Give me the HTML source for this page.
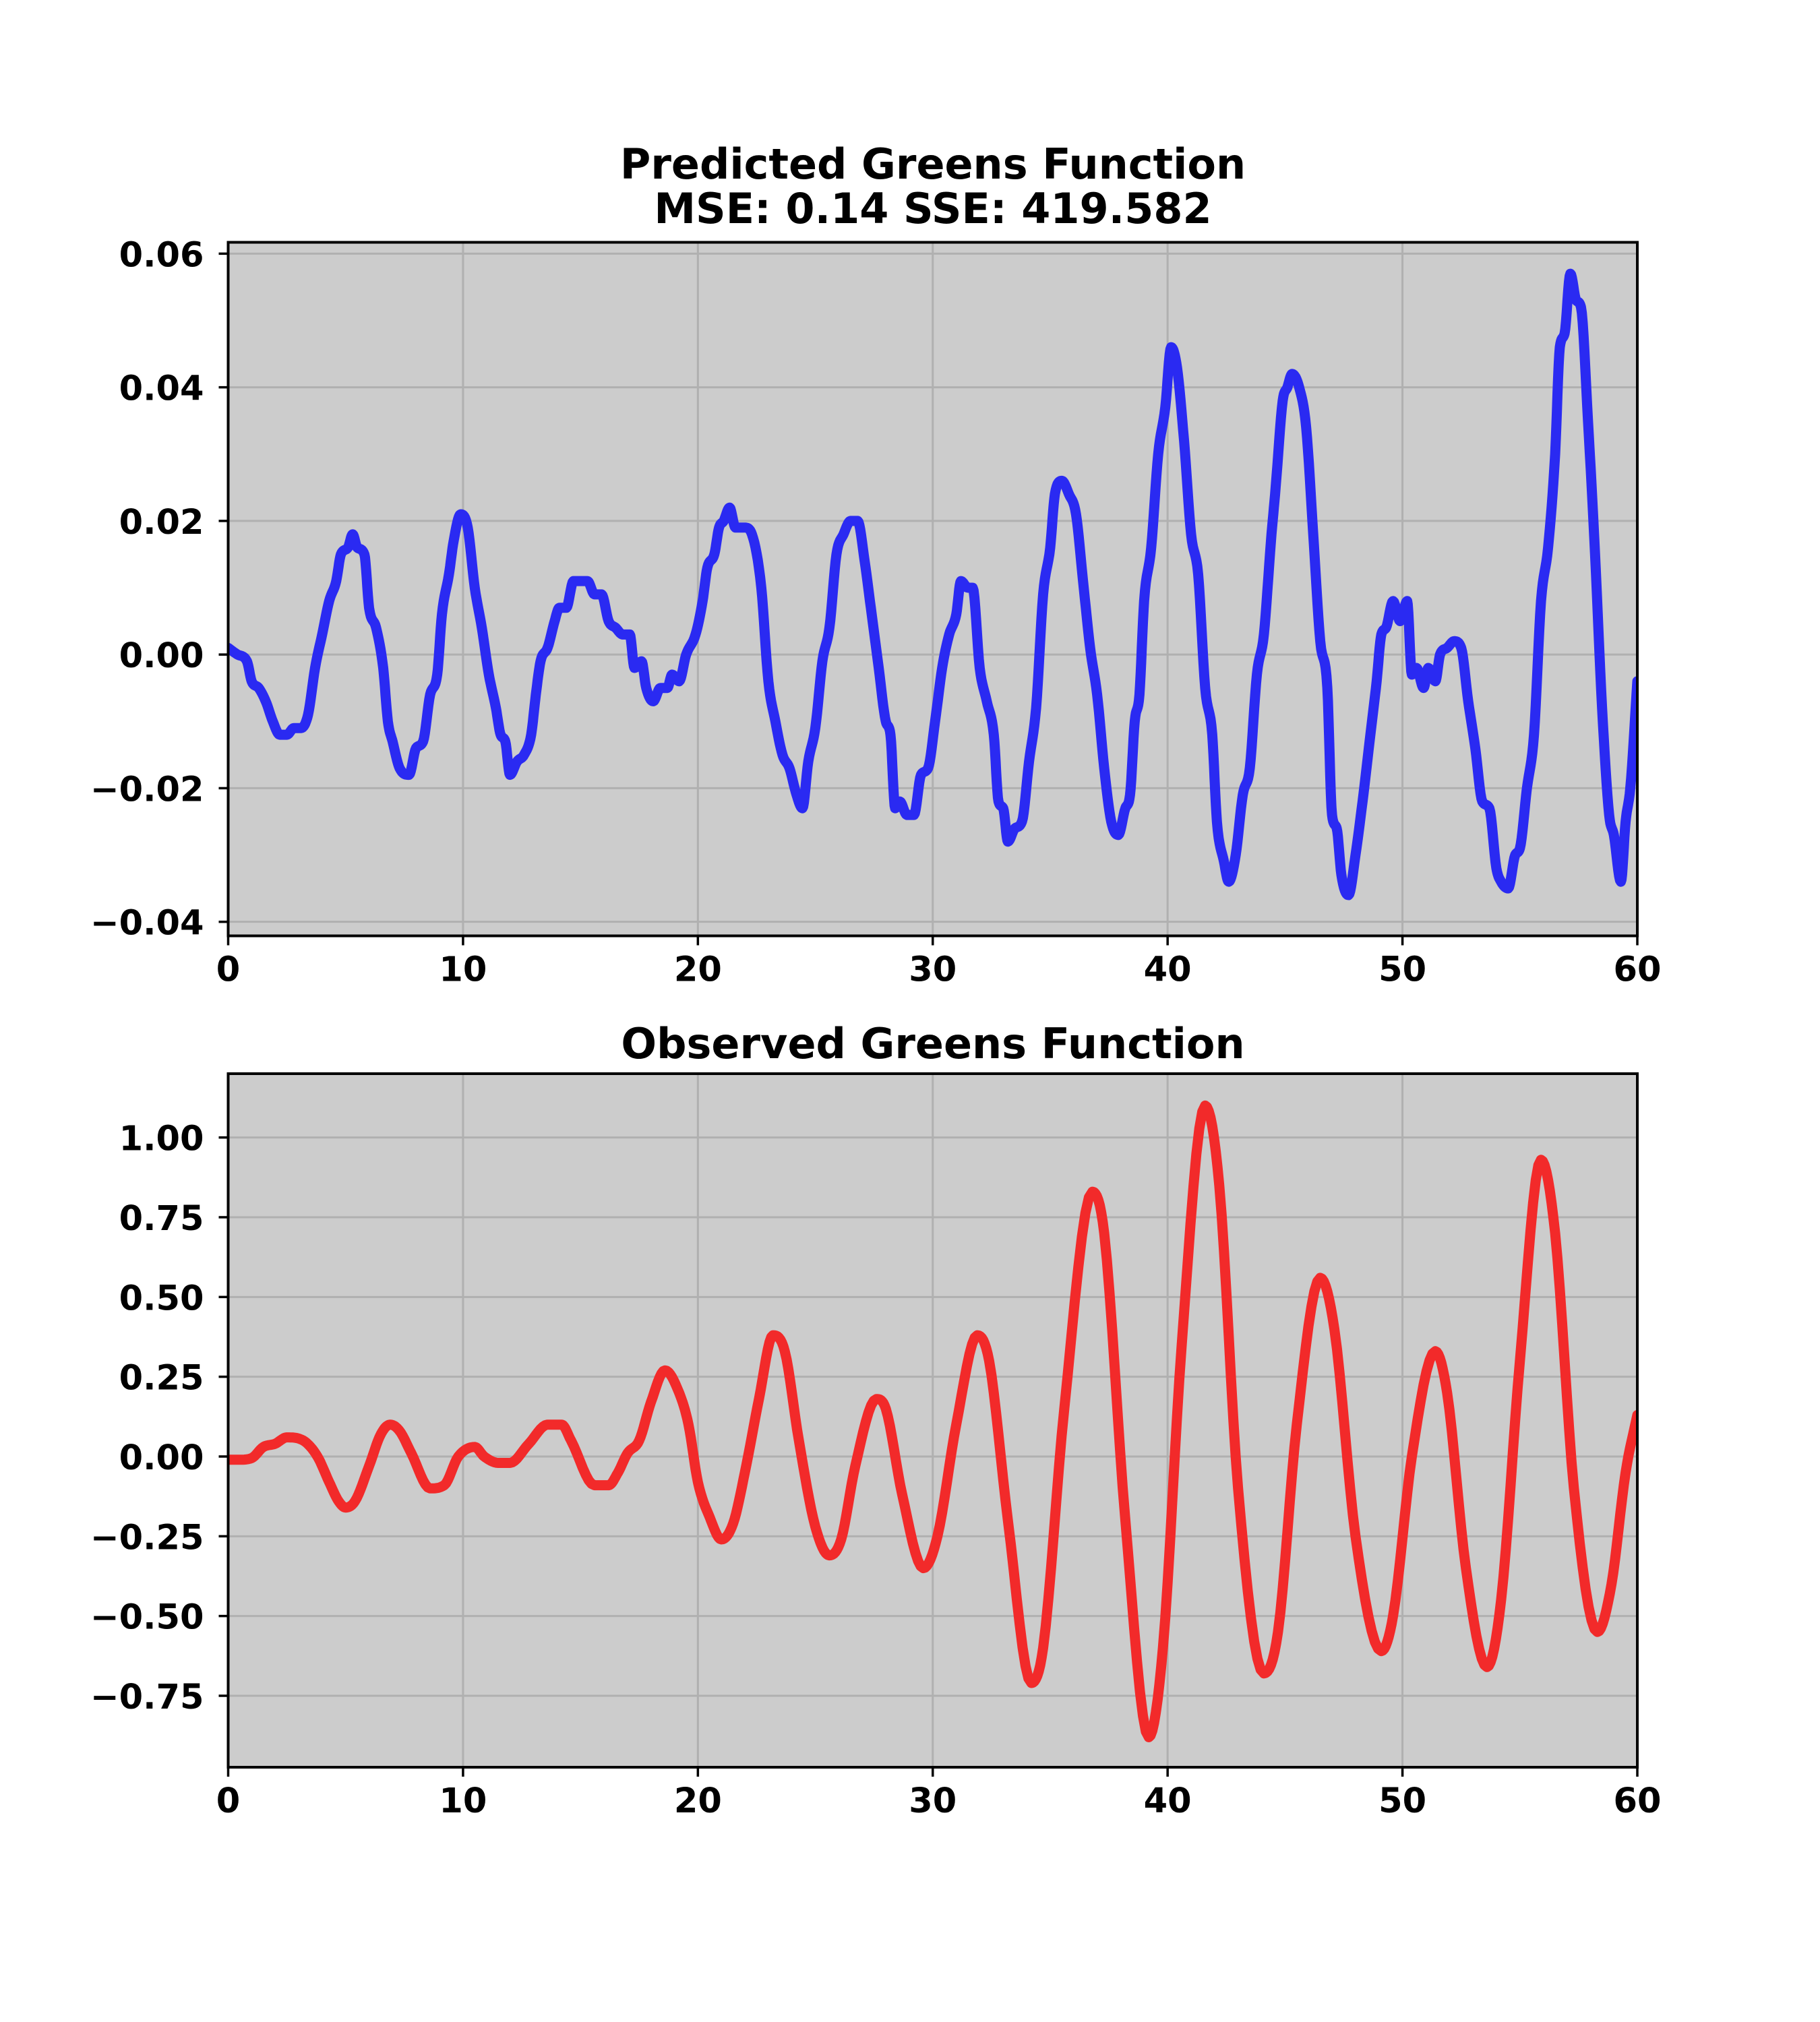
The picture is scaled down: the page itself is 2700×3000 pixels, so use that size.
<!DOCTYPE html>
<html><head><meta charset="utf-8"><style>
html,body{margin:0;padding:0;background:#fff;}
svg{display:block;font-family:"DejaVu Sans","Liberation Sans",sans-serif;font-weight:bold;}
</style></head><body>
<svg id="fig" width="2700" height="3000" viewBox="0 0 2700 3000" xmlns="http://www.w3.org/2000/svg">
<rect width="2700" height="3000" fill="#fff"/>
<text x="1384" y="265" font-size="62" text-anchor="middle">Predicted Greens Function</text>
<text x="1384" y="331" font-size="62" text-anchor="middle">MSE: 0.14 SSE: 419.582</text>
<text x="1384" y="1570" font-size="62" text-anchor="middle">Observed Greens Function</text>
<g id="p1"></g>
<g id="p2"></g>
</svg>
<script>
const xTicks=[0,10,20,30,40,50,60];
const predTicks=[0.06,0.04,0.02,0.00,-0.02,-0.04];
const predTickLabels=["0.06","0.04","0.02","0.00","\u22120.02","\u22120.04"];
const obsTicks=[1.00,0.75,0.50,0.25,0.00,-0.25,-0.50,-0.75];
const obsTickLabels=["1.00","0.75","0.50","0.25","0.00","\u22120.25","\u22120.50","\u22120.75"];
const predT=[0,0.4,0.8,1.0,1.3,1.6,1.9,2.2,2.5,2.8,3.1,3.4,3.7,4.0,4.3,4.6,4.8,5.1,5.3,5.5,5.8,6.0,6.3,6.6,6.8,7.0,7.3,7.7,8.0,8.3,8.6,8.9,9.1,9.4,9.6,9.9,10.2,10.5,10.8,11.1,11.4,11.6,11.8,12.0,12.3,12.6,12.9,13.1,13.3,13.6,13.9,14.1,14.4,14.7,15.0,15.3,15.6,15.9,16.2,16.5,16.8,17.1,17.3,17.6,17.8,18.1,18.4,18.7,18.9,19.2,19.5,19.9,20.2,20.4,20.7,20.9,21.1,21.35,21.6,22.0,22.3,22.7,23.0,23.3,23.6,23.9,24.2,24.45,24.7,25.0,25.3,25.6,25.9,26.2,26.5,26.8,27.1,27.4,27.7,28.0,28.2,28.4,28.6,28.9,29.2,29.5,29.8,30.1,30.4,30.7,31.0,31.2,31.5,31.7,32.0,32.3,32.6,32.8,33.0,33.2,33.5,33.8,34.1,34.4,34.7,35.0,35.2,35.5,35.8,36.1,36.4,36.7,37.0,37.3,37.6,37.9,38.2,38.4,38.6,38.8,39.0,39.3,39.6,39.9,40.15,40.4,40.7,41.0,41.3,41.6,41.9,42.1,42.4,42.6,42.9,43.2,43.5,43.8,44.1,44.4,44.6,44.9,45.1,45.3,45.6,45.9,46.2,46.5,46.8,47.0,47.2,47.4,47.7,48.0,48.3,48.6,48.9,49.1,49.3,49.6,49.9,50.2,50.4,50.6,50.9,51.1,51.4,51.6,51.9,52.2,52.5,52.8,53.1,53.4,53.7,54.0,54.2,54.5,54.8,55.0,55.3,55.6,55.9,56.2,56.5,56.7,56.9,57.15,57.4,57.6,57.9,58.2,58.5,58.8,59.0,59.3,59.5,59.7,60];
const predV=[0.001,0,-0.001,-0.004,-0.005,-0.007,-0.010,-0.012,-0.012,-0.011,-0.011,-0.009,-0.002,0.003,0.008,0.011,0.015,0.016,0.018,0.016,0.015,0.007,0.004,-0.002,-0.010,-0.013,-0.017,-0.018,-0.014,-0.013,-0.006,-0.003,0.006,0.012,0.017,0.021,0.019,0.010,0.004,-0.003,-0.008,-0.012,-0.013,-0.018,-0.016,-0.015,-0.012,-0.006,-0.001,0.001,0.005,0.007,0.007,0.011,0.011,0.011,0.009,0.009,0.005,0.004,0.003,0.003,-0.002,-0.001,-0.005,-0.007,-0.005,-0.005,-0.003,-0.004,0.000,0.003,0.008,0.013,0.015,0.019,0.020,0.022,0.019,0.019,0.018,0.010,-0.004,-0.010,-0.015,-0.017,-0.021,-0.023,-0.016,-0.011,-0.001,0.004,0.015,0.018,0.020,0.020,0.014,0.006,-0.002,-0.010,-0.012,-0.023,-0.022,-0.024,-0.024,-0.018,-0.017,-0.010,-0.002,0.003,0.006,0.011,0.010,0.010,-0.002,-0.007,-0.012,-0.022,-0.023,-0.028,-0.026,-0.025,-0.016,-0.008,0.009,0.016,0.024,0.026,0.024,0.021,0.011,0.001,-0.006,-0.017,-0.025,-0.027,-0.023,-0.021,-0.010,-0.006,0.008,0.016,0.030,0.037,0.046,0.043,0.032,0.018,0.012,-0.005,-0.012,-0.025,-0.031,-0.034,-0.030,-0.021,-0.017,-0.003,0.003,0.017,0.025,0.038,0.040,0.042,0.040,0.034,0.018,0.002,-0.005,-0.024,-0.026,-0.033,-0.036,-0.030,-0.022,-0.013,-0.004,0.003,0.004,0.008,0.005,0.008,-0.003,-0.002,-0.005,-0.002,-0.004,0.000,0.001,0.002,0.001,-0.007,-0.014,-0.022,-0.023,-0.032,-0.034,-0.035,-0.030,-0.029,-0.020,-0.012,0.008,0.016,0.030,0.046,0.048,0.057,0.053,0.052,0.035,0.015,-0.008,-0.024,-0.027,-0.034,-0.025,-0.020,-0.004];
const obsT=[0,0.5,1.0,1.5,2.0,2.5,3.2,3.8,4.3,4.7,5.0,5.4,6.0,6.5,6.9,7.3,7.8,8.6,9.2,9.8,10.5,10.9,11.5,12.0,12.8,13.6,14.2,14.6,15.6,16.2,16.6,17.0,17.5,18.0,18.6,19.2,19.6,20.0,20.5,21.0,21.5,22.0,22.6,23.2,23.7,24.3,25.0,25.6,26.1,26.7,27.6,28.0,28.7,29.6,30.2,31.0,31.9,32.4,33.2,34.2,34.7,35.6,36.8,37.3,38.2,39.2,39.8,40.6,41.6,42.2,43.0,44.1,44.7,45.5,46.5,47.1,48.0,49.1,49.6,50.4,51.4,51.9,52.7,53.6,54.2,55.0,55.9,56.5,57.3,58.3,58.9,59.5,60];
const obsV=[-0.01,-0.01,-0.005,0.03,0.04,0.06,0.05,0.0,-0.08,-0.14,-0.16,-0.14,-0.03,0.07,0.10,0.08,0.01,-0.10,-0.09,0.0,0.03,0.0,-0.02,-0.02,0.04,0.10,0.10,0.05,-0.09,-0.09,-0.05,0.01,0.05,0.17,0.27,0.20,0.10,-0.08,-0.19,-0.26,-0.21,-0.05,0.18,0.38,0.33,0.05,-0.22,-0.31,-0.26,-0.03,0.18,0.15,-0.12,-0.35,-0.25,0.10,0.38,0.30,-0.20,-0.71,-0.60,0.15,0.83,0.70,-0.20,-0.88,-0.60,0.35,1.10,0.85,-0.10,-0.68,-0.55,0.10,0.56,0.40,-0.25,-0.61,-0.50,0.0,0.33,0.20,-0.35,-0.66,-0.45,0.30,0.93,0.70,-0.10,-0.55,-0.40,-0.05,0.13];

const NS="http://www.w3.org/2000/svg";
function mk(tag,attrs,parent){const e=document.createElementNS(NS,tag);for(const k in attrs)e.setAttribute(k,attrs[k]);parent.appendChild(e);return e;}
function mono(xs,ys){
  const n=xs.length,d=[],m=[];
  for(let i=0;i<n-1;i++)d.push((ys[i+1]-ys[i])/(xs[i+1]-xs[i]));
  m[0]=d[0];m[n-1]=d[n-2];
  for(let i=1;i<n-1;i++){m[i]=(d[i-1]*d[i]<=0)?0:(d[i-1]+d[i])/2;}
  for(let i=0;i<n-1;i++){if(d[i]===0){m[i]=0;m[i+1]=0;continue;}const a=m[i]/d[i],b=m[i+1]/d[i],s=a*a+b*b;if(s>9){const t=3/Math.sqrt(s);m[i]=t*a*d[i];m[i+1]=t*b*d[i];}}
  const out=[];
  for(let i=0;i<n-1;i++){const h=xs[i+1]-xs[i];for(let k=0;k<8;k++){const t=k/8,t2=t*t,t3=t2*t;
    const y=(2*t3-3*t2+1)*ys[i]+(t3-2*t2+t)*h*m[i]+(-2*t3+3*t2)*ys[i+1]+(t3-t2)*h*m[i+1];out.push([xs[i]+t*h,y]);}}
  out.push([xs[n-1],ys[n-1]]);return out;
}
function panel(g,top,bot,ymin,ymax,ticks,labels,T,V,color,nm){
  const L=338.5,R=2429;
  const sx=v=>L+(v-0)/(60-0)*(R-L);
  const sy=v=>bot-(v-ymin)/(ymax-ymin)*(bot-top);
  const bg=mk('rect',{x:L,y:top,width:R-L,height:bot-top,fill:'#cccccc'},g);
  
  
  xTicks.forEach(t=>{const l=mk('line',{x1:sx(t),x2:sx(t),y1:top,y2:bot,stroke:'#b0b0b0','stroke-width':3},g);
    
    });
  ticks.forEach(t=>{const l=mk('line',{x1:L,x2:R,y1:sy(t),y2:sy(t),stroke:'#b0b0b0','stroke-width':3},g);
    
    });
  const pts=mono(T,V).map(p=>sx(p[0]).toFixed(1)+','+sy(p[1]).toFixed(1)).join(' ');
  const cp=mk('clipPath',{id:'c'+nm},g);mk('rect',{x:L,y:top,width:R-L,height:bot-top},cp);
  const pl=mk('polyline',{points:pts,fill:'none',stroke:color,'stroke-width':15,'stroke-linejoin':'round','stroke-linecap':'round','clip-path':'url(#c'+nm+')'},g);
  
  
  const fr=mk('rect',{x:L,y:top,width:R-L,height:bot-top,fill:'none',stroke:'#000','stroke-width':4},g);
  
  
  xTicks.forEach(t=>{mk('line',{x1:sx(t),x2:sx(t),y1:bot,y2:bot+14,stroke:'#000','stroke-width':3.5},g);
    const tx=mk('text',{x:sx(t),y:bot+67,'font-size':51,'text-anchor':'middle'},g);tx.textContent=String(t);
    
    });
  ticks.forEach((t,i)=>{mk('line',{x1:L-14,x2:L,y1:sy(t),y2:sy(t),stroke:'#000','stroke-width':3.5},g);
    const tx=mk('text',{x:L-36,y:sy(t)+19,'font-size':51,'text-anchor':'end'},g);tx.textContent=labels[i];
    
    });
}
panel(document.getElementById('p1'),359.5,1388.5,-0.0421,0.0617,predTicks,predTickLabels,predT,predV,'#2a2af2','predicted');
panel(document.getElementById('p2'),1593,2622,-0.974,1.20,obsTicks,obsTickLabels,obsT,obsV,'#f22a2a','observed');
</script>
</body></html>
